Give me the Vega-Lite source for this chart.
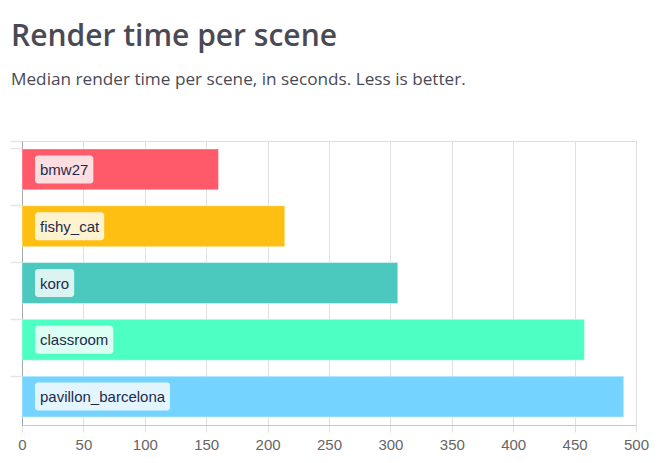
{
  "$schema": "https://vega.github.io/schema/vega-lite/v6.json",
  "width": 614,
  "height": 284,
  "autosize": {"type": "none"},
  "padding": {"left": 22, "top": 141, "right": 30, "bottom": 38},
  "background": "white",
  "title": {
    "text": "Render time per scene",
    "subtitle": "Median render time per scene, in seconds. Less is better.",
    "anchor": "start",
    "frame": "group",
    "dx": -11,
    "offset": 52,
    "font": "Open Sans",
    "fontSize": 30,
    "fontWeight": 600,
    "color": "#4a4a55",
    "subtitleFont": "Open Sans",
    "subtitleFontSize": 17.2,
    "subtitleColor": "#4a4a55",
    "subtitlePadding": 19
  },
  "data": {
    "values": [
      {"scene": "bmw27", "time": 160},
      {"scene": "fishy_cat", "time": 214},
      {"scene": "koro", "time": 306},
      {"scene": "classroom", "time": 458},
      {"scene": "pavillon_barcelona", "time": 490}
    ]
  },
  "transform": [
    {"calculate": "length(datum.scene)", "as": "n"},
    {"calculate": "15/1000*(556*datum.n - 56*(datum.n-length(replace(datum.scene, regexp('[cksvxyz]','g'), ''))) - 278*(datum.n-length(replace(datum.scene, regexp('[ft]','g'), ''))) - 334*(datum.n-length(replace(datum.scene, regexp('[ijl]','g'), ''))) - 223*(datum.n-length(replace(datum.scene, regexp('r','g'), ''))) + 277*(datum.n-length(replace(datum.scene, regexp('m','g'), ''))) + 166*(datum.n-length(replace(datum.scene, regexp('w','g'), ''))))", "as": "tw"},
    {"calculate": "13/1.228", "as": "boxStart"},
    {"calculate": "(23 + datum.tw)/1.228", "as": "boxEnd"}
  ],
  "encoding": {
    "y": {
      "field": "scene",
      "type": "nominal",
      "sort": null,
      "title": null,
      "scale": {"paddingInner": 0.28, "paddingOuter": 0.14},
      "axis": {
        "labels": false,
        "bandPosition": 0,
        "tickExtra": true,
        "tickSize": 12,
        "tickColor": "#e6e6e6",
        "tickWidth": 1.5,
        "gridColor": "#e8e8e8",
        "gridWidth": 1.5,
        "domainColor": "#a8a8a8",
        "domainWidth": 1
      }
    }
  },
  "layer": [
    {
      "mark": {"type": "bar", "stroke": "white", "strokeOpacity": 0.4, "strokeWidth": 1, "opacity": 1},
      "encoding": {
        "x": {
          "field": "time",
          "type": "quantitative",
          "scale": {"domain": [0, 500], "nice": false},
          "title": null,
          "axis": {
            "values": [0, 50, 100, 150, 200, 250, 300, 350, 400, 450, 500],
            "gridColor": "#e0e0e0",
            "gridWidth": 1,
            "tickColor": "#e0e0e0",
            "tickSize": 7,
            "domainColor": "#c8c8c8",
            "labelFont": "Liberation Sans",
            "labelFontSize": 15,
            "labelColor": "#666666",
            "labelPadding": 5,
            "labelFlush": false
          }
        },
        "color": {
          "field": "scene",
          "type": "nominal",
          "sort": null,
          "legend": null,
          "scale": {
            "domain": ["bmw27", "fishy_cat", "koro", "classroom", "pavillon_barcelona"],
            "range": ["#ff5a69", "#ffbe12", "#4bc9bf", "#4dffc2", "#75d3ff"]
          }
        }
      }
    },
    {
      "mark": {"type": "bar", "color": "white", "opacity": 0.8, "size": 28, "cornerRadius": 3},
      "encoding": {
        "x": {"field": "boxStart", "type": "quantitative"},
        "x2": {"field": "boxEnd"}
      }
    },
    {
      "mark": {"type": "text", "align": "left", "baseline": "middle", "dx": 5, "dy": 0.5, "font": "Liberation Sans", "fontSize": 15, "color": "#1c2b4c"},
      "encoding": {
        "x": {"field": "boxStart", "type": "quantitative"},
        "text": {"field": "scene"}
      }
    }
  ]
}
